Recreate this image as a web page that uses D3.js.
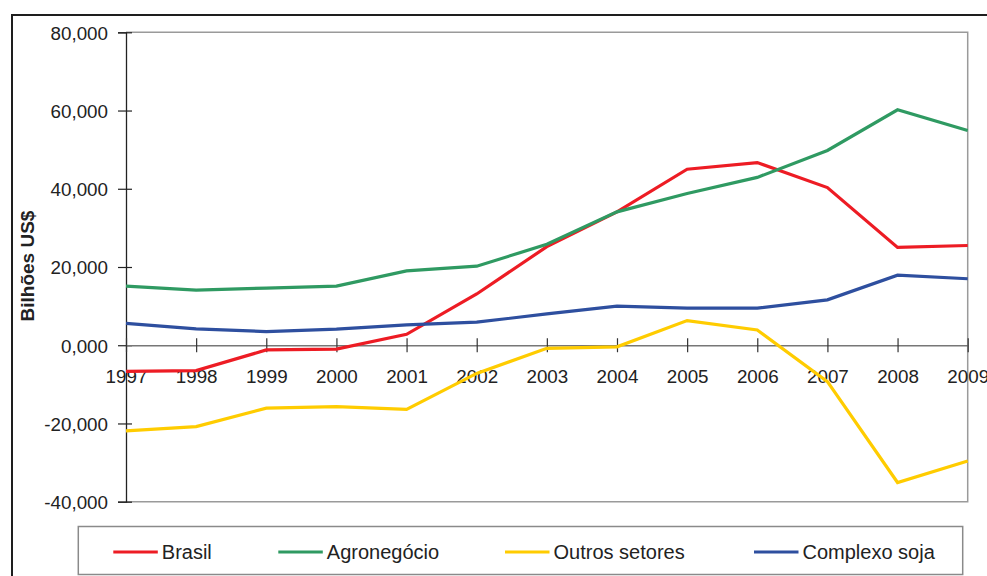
<!DOCTYPE html>
<html>
<head>
<meta charset="utf-8">
<script src="https://cdn.jsdelivr.net/npm/d3@7"></script>
<style>
  html, body { margin: 0; padding: 0; background: #fff; }
  svg { display: block; font-family: "Liberation Sans", Arial, sans-serif; }
</style>
</head>
<body>
<svg id="chart" width="987" height="576"></svg>
<script>
// Saldo comercial (bilhões US$), 1997–2009
const years = ["1997","1998","1999","2000","2001","2002","2003","2004","2005","2006","2007","2008","2009"];
const brasil = [-6.7, -6.5, -1.2, -1.0, 2.8, 13.1, 25.2, 34.1, 45.0, 46.7, 40.3, 25.0, 25.5];
const agronegocio = [15.1, 14.1, 14.6, 15.1, 19.0, 20.2, 25.8, 34.1, 38.8, 42.9, 49.8, 60.2, 54.9];
const outrosSetores = [-21.9, -20.8, -16.1, -15.7, -16.4, -7.2, -0.8, -0.4, 6.3, 3.9, -9.3, -35.1, -29.6];
const complexoSoja = [5.6, 4.2, 3.5, 4.1, 5.2, 5.9, 8.0, 10.0, 9.5, 9.5, 11.6, 17.9, 17.0];
const yTicks = [-40, -20, 0, 20, 40, 60, 80];
const seriesNames = ["Brasil", "Agronegócio", "Outros setores", "Complexo soja"];
const seriesColors = ["#ed1c24", "#2f9a62", "#ffcc00", "#2e4f9f"];

const series = [brasil, agronegocio, outrosSetores, complexoSoja].map((values, i) => ({
  name: seriesNames[i], color: seriesColors[i], values
}));

const svg = d3.select("#chart");
const plotLeft = 126, plotRight = 967.7, plotTop = 32.3, plotBottom = 501.7;

const x = d3.scalePoint().domain(years).range([plotLeft, plotRight]);
const y = d3.scaleLinear().domain([-40, 80]).range([plotBottom, plotTop]);

const ptBR = d3.formatLocale({ decimal: ",", thousands: ".", grouping: [3], currency: ["", ""], minus: "-" });
const fmt = ptBR.format(".3f");

// outer frame
svg.append("rect")
  .attr("x", 12).attr("y", 15).attr("width", 1000).attr("height", 600)
  .attr("fill", "none").attr("stroke", "#1e1e1e").attr("stroke-width", 2);

// plot area border (top, right, bottom)
svg.append("path")
  .attr("d", `M${plotLeft},${plotTop}H${plotRight}V${plotBottom}H${plotLeft}`)
  .attr("fill", "none").attr("stroke", "#9a9a9a").attr("stroke-width", 1.5);

// y axis
const yAxis = svg.append("g")
  .attr("transform", `translate(${plotLeft},0)`)
  .call(d3.axisLeft(y).tickValues(yTicks).tickFormat(fmt).tickSize(8).tickPadding(10));
yAxis.select(".domain").attr("stroke", "#222").attr("stroke-width", 1.3);
yAxis.selectAll(".tick line").attr("stroke", "#222").attr("stroke-width", 1.2).attr("x2", 6).attr("x1", -8);
yAxis.selectAll(".tick text")
  .attr("fill", "#222").attr("font-size", "18.8px").attr("font-family", "Liberation Sans, Arial, sans-serif")
  .attr("x", -18).attr("dy", "0.36em");

// zero line with category ticks and labels
const xAxis = svg.append("g")
  .attr("transform", `translate(0,${y(0)})`)
  .call(d3.axisBottom(x).tickSizeInner(7).tickSizeOuter(0).tickPadding(0));
xAxis.select(".domain").attr("stroke", "#777").attr("stroke-width", 1.6);
xAxis.selectAll(".tick line").attr("stroke", "#333").attr("stroke-width", 1.2).attr("y1", -7).attr("y2", 7);
xAxis.selectAll(".tick text")
  .attr("fill", "#222").attr("font-size", "18.8px").attr("font-family", "Liberation Sans, Arial, sans-serif")
  .attr("y", 37.5).attr("dy", 0);

// y axis title
svg.append("text")
  .attr("transform", "translate(33.5,266) rotate(-90)")
  .attr("text-anchor", "middle")
  .attr("font-size", "19px").attr("font-weight", "bold").attr("fill", "#222")
  .text("Bilhões US$");

// series lines
const line = d3.line().x((d, i) => x(years[i])).y(d => y(d));
svg.append("g").selectAll("path")
  .data(series)
  .join("path")
  .attr("d", d => line(d.values))
  .attr("fill", "none")
  .attr("stroke", d => d.color)
  .attr("stroke-width", 3.2)
  .attr("stroke-linejoin", "miter");

// legend
svg.append("rect")
  .attr("x", 78.3).attr("y", 526.5).attr("width", 884.4).attr("height", 48)
  .attr("fill", "#fff").attr("stroke", "#8a8a8a").attr("stroke-width", 1.5);

const legendX = [113.3, 278.3, 505, 754];
const leg = svg.append("g").selectAll("g")
  .data(series)
  .join("g")
  .attr("transform", (d, i) => `translate(${legendX[i]},552)`);
leg.append("line")
  .attr("x1", 0).attr("x2", 44.5).attr("y1", 0).attr("y2", 0)
  .attr("stroke", d => d.color).attr("stroke-width", 3.2);
leg.append("text")
  .attr("x", 48.5).attr("y", 6.5)
  .attr("font-size", "20px").attr("fill", "#222")
  .text(d => d.name);
</script>
</body>
</html>
